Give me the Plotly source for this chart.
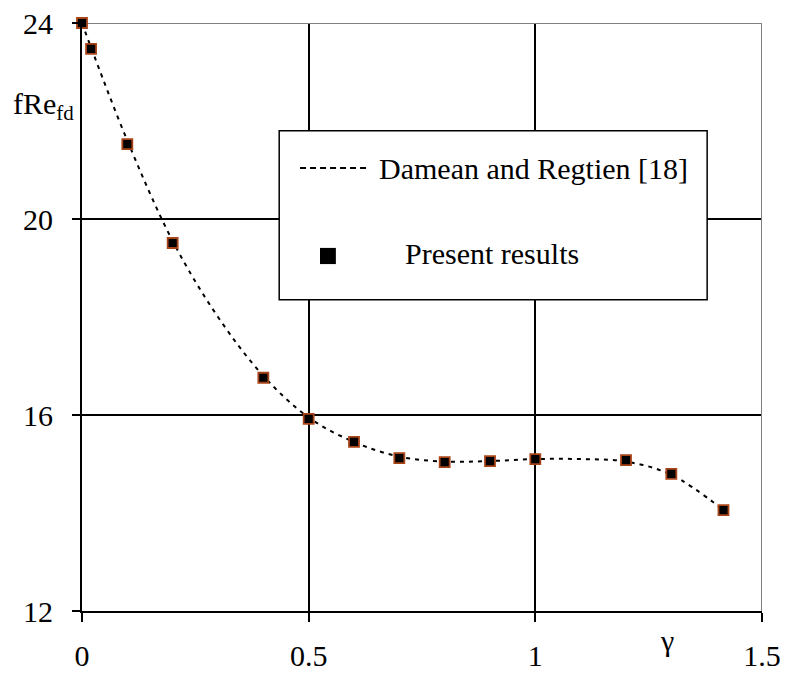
import plotly.graph_objects as go

# Data
gamma_present = [0.0, 0.02, 0.1, 0.2, 0.4, 0.5, 0.6, 0.7, 0.8, 0.9, 1.0, 1.2, 1.3, 1.415]
fre_present = [24.0, 23.47, 21.53, 19.51, 16.76, 15.92, 15.45, 15.12, 15.04, 15.06, 15.10, 15.08, 14.80, 14.06]

gamma_ref = [0.0, 0.02, 0.1, 0.2, 0.3, 0.4, 0.5, 0.6, 0.7, 0.8, 0.9, 1.0, 1.1, 1.2, 1.3, 1.415]
fre_ref = [24.0, 23.5, 21.6, 19.55, 18.0, 16.8, 15.95, 15.45, 15.15, 15.05, 15.06, 15.10, 15.1, 15.05, 14.78, 14.06]

x_ticks = [0, 0.5, 1, 1.5]
x_tick_text = ["0", "0.5", "1", "1.5"]
y_ticks = [12, 16, 20, 24]
y_tick_text = ["12", "16", "20", "24"]

FONT = "Times New Roman, Liberation Serif, DejaVu Serif, serif"
FS = 30

fig = go.Figure()
fig.add_trace(go.Scatter(
    x=gamma_ref, y=fre_ref, mode="lines", line=dict(color="black", width=2, dash="4px,5px", shape="spline"),
    showlegend=False, hoverinfo="skip"))
fig.add_trace(go.Scatter(
    x=gamma_present, y=fre_present, mode="markers",
    marker=dict(symbol="square", size=10, color="black", line=dict(color="#A84418", width=1.8)),
    showlegend=False, cliponaxis=False))

shapes = [
    dict(type="line", xref="x", yref="y", x0=0, x1=1.5, y0=24, y1=24, line=dict(color="#808080", width=2), layer="between"),
    dict(type="line", xref="x", yref="y", x0=1.5, x1=1.5, y0=12, y1=24, line=dict(color="#808080", width=2), layer="between"),
    dict(type="rect", xref="x", yref="y", x0=0.435, x1=1.379, y0=18.35, y1=21.80,
         line=dict(color="black", width=1.5), fillcolor="white", layer="above"),
    dict(type="line", xref="x", yref="y", x0=0.481, x1=0.631, y0=21.04, y1=21.04,
         line=dict(color="black", width=2, dash="6px,4px"), layer="above"),
    dict(type="rect", xref="x", yref="y", x0=0.525, x1=0.560, y0=19.08, y1=19.41,
         line=dict(color="black", width=0), fillcolor="black", layer="above"),
]

annotations = [
    dict(x=0.651, y=21.04, xref="x", yref="y", text="Damean and Regtien [18]", showarrow=False,
         xanchor="left", yanchor="middle", font=dict(family=FONT, size=FS, color="black")),
    dict(x=0.708, y=19.30, xref="x", yref="y", text="Present results", showarrow=False,
         xanchor="left", yanchor="middle", font=dict(family=FONT, size=FS, color="black")),
    dict(x=1.29, y=-0.050, xref="x", yref="paper", text="γ", showarrow=False,
         xanchor="center", yanchor="middle", font=dict(family=FONT, size=FS, color="black")),
    dict(x=-0.0566, y=0.858, xref="paper", yref="paper", text="fRe<sub>fd</sub>", showarrow=False,
         xanchor="center", yanchor="middle", font=dict(family=FONT, size=FS, color="black")),
]

fig.update_layout(
    width=785, height=677,
    margin=dict(l=82, r=23, t=23, b=66, autoexpand=False),
    paper_bgcolor="white", plot_bgcolor="white",
    font=dict(family=FONT, size=FS, color="black"),
    shapes=shapes, annotations=annotations,
    xaxis=dict(range=[0, 1.5], tickvals=x_ticks, ticktext=x_tick_text, showgrid=True, gridcolor="black",
               gridwidth=1.5, showline=True, linecolor="black", linewidth=2, ticks="outside", ticklen=9,
               tickcolor="black", tickwidth=1.5, zeroline=False, ticklabelstandoff=8, automargin=False,
               ticklabeloverflow="allow", tickfont=dict(family=FONT, size=FS, color="black")),
    yaxis=dict(range=[12, 24], tickvals=y_ticks, ticktext=y_tick_text, showgrid=True, gridcolor="black",
               gridwidth=1.5, showline=True, linecolor="black", linewidth=2, ticks="outside", ticklen=8,
               tickcolor="black", tickwidth=1.5, zeroline=False, ticklabelstandoff=13, automargin=False,
               ticklabeloverflow="allow", tickfont=dict(family=FONT, size=FS, color="black")),
)

fig.write_html("out.html", config={"displayModeBar": False},
               post_script="document.body.style.margin='0';document.body.style.overflow='hidden';")
